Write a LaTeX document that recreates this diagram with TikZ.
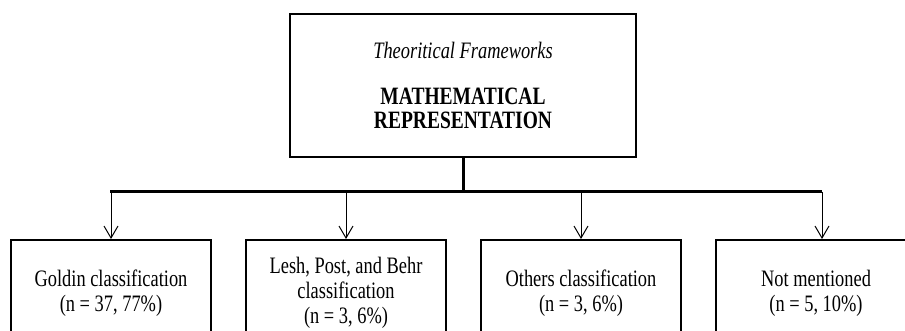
\documentclass[tikz,border=0pt]{standalone}
\usepackage{fontspec}
\usepackage{graphicx}
\setmainfont{Liberation Serif}
\usetikzlibrary{arrows.meta,positioning}
\newcommand\tallline[1]{\scalebox{1}[1.28]{#1}}
\tikzset{
  topbox/.style={draw,line width=2pt,minimum width=346pt,minimum height=143pt,align=center,font=\fontsize{18.4}{24}\selectfont},
  leafbox/.style={draw,line width=1.8pt,minimum width=200pt,minimum height=106pt,anchor=north,align=center,font=\fontsize{18.4}{25}\selectfont},
  branch/.style={line width=1pt,-{Straight Barb[length=12pt,width=14pt,line width=1pt]}}
}
\begin{document}
\begin{tikzpicture}[x=1pt,y=-1pt]
        \useasboundingbox (0,0) rectangle (905,331);
        \clip (0,0) rectangle (905,331);
        %riquadro principale
        \node[topbox] (theory) at (463,85.5) {\tallline{\textit{Theoritical Frameworks}}\\[22pt]
          \tallline{\fontsize{19.5}{24}\selectfont\textbf{MATHEMATICAL}}\\
          \tallline{\fontsize{19.5}{24}\selectfont\textbf{REPRESENTATION}}};
        %riquadri inferiori
        \node[leafbox] (goldin) at (111,239) {\tallline{Goldin classification}\\\tallline{(n = 37, 77\%)}};
        \node[leafbox] (lesh) at (346,239) {\tallline{Lesh, Post, and Behr}\\\tallline{classification}\\\tallline{(n = 3, 6\%)}};
        \node[leafbox] (others) at (581,239) {\tallline{Others classification}\\\tallline{(n = 3, 6\%)}};
        \node[leafbox] (notmentioned) at (816,239) {\tallline{Not mentioned}\\\tallline{(n = 5, 10\%)}};
        %barra orizzontale
        \coordinate (barL) at (110,192);
        \coordinate (barR) at (822,192);
        \draw[line width=3pt] (theory.south) -- (theory.south |- barL);
        \draw[line width=3pt] (barL) -- (barR);
        %frecce
        \foreach \leaf in {goldin,lesh,others}
          \draw[branch] (\leaf.north |- barL) -- (\leaf.north);
        \draw[branch] (barR) -- ([xshift=6pt]notmentioned.north);
    \end{tikzpicture}
\end{document}
